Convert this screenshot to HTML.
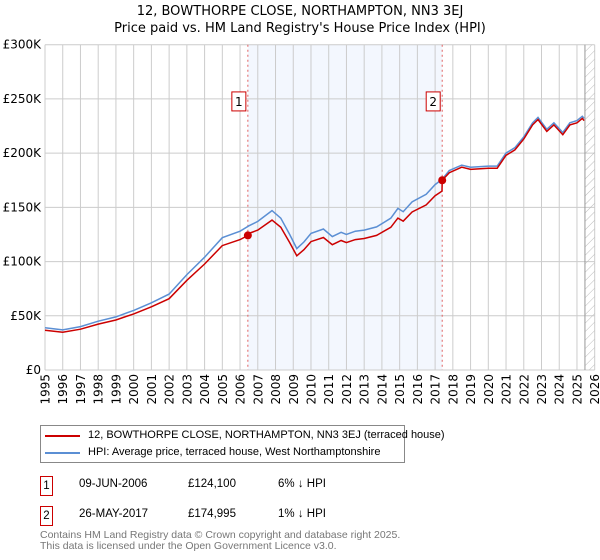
<!DOCTYPE html>
<html><head><meta charset="utf-8"><style>
body{margin:0;background:#fff;font-family:"Liberation Sans","DejaVu Sans",sans-serif;}
#wrap{position:relative;width:600px;height:560px;overflow:hidden}
.nw{white-space:nowrap}
</style></head><body>
<div id="wrap">
<svg id="chart" width="600" height="560" xmlns="http://www.w3.org/2000/svg" font-family="DejaVu Sans, Liberation Sans, sans-serif">
<defs><pattern id="hatch" width="6" height="6" patternUnits="userSpaceOnUse" patternTransform="rotate(45)"><line x1="0" y1="0" x2="0" y2="6" stroke="#bbb" stroke-width="1"/></pattern></defs>
<text x="300" y="15" text-anchor="middle" font-size="13">12, BOWTHORPE CLOSE, NORTHAMPTON, NN3 3EJ</text>
<text x="300" y="32" text-anchor="middle" font-size="13">Price paid vs. HM Land Registry's House Price Index (HPI)</text>
<g id="grid"></g><g id="marks"></g>
</svg>
<div style="position:absolute;left:40px;top:425px;width:363px;height:36px;border:1px solid #888;font-size:11px">
 <div style="position:absolute;left:4px;top:9px;width:35px;height:2px;background:#cc0000"></div>
 <div class="nw" style="position:absolute;left:47px;top:3px;">12, BOWTHORPE CLOSE, NORTHAMPTON, NN3 3EJ (terraced house)</div>
 <div style="position:absolute;left:4px;top:26px;width:35px;height:2px;background:#5b8fd4"></div>
 <div class="nw" style="position:absolute;left:47px;top:20px;">HPI: Average price, terraced house, West Northamptonshire</div>
</div>
<div style="position:absolute;left:40px;top:476px;font-size:11.5px;width:400px;height:50px">
 <div style="position:absolute;left:0;top:0;width:11px;height:18px;border:1px solid #cc0000;text-align:center;line-height:18px">1</div>
 <div class="nw" style="position:absolute;left:39px;top:2px">09-JUN-2006</div>
 <div class="nw" style="position:absolute;left:148px;top:2px">£124,100</div>
 <div class="nw" style="position:absolute;left:238px;top:2px">6% ↓ HPI</div>
 <div style="position:absolute;left:0;top:30px;width:11px;height:18px;border:1px solid #cc0000;text-align:center;line-height:18px">2</div>
 <div class="nw" style="position:absolute;left:39px;top:32px">26-MAY-2017</div>
 <div class="nw" style="position:absolute;left:148px;top:32px">£174,995</div>
 <div class="nw" style="position:absolute;left:238px;top:32px">1% ↓ HPI</div>
</div>
<div class="nw" style="position:absolute;left:40px;top:530px;font-size:10.5px;color:#777;line-height:10.5px">Contains HM Land Registry data © Crown copyright and database right 2025.<br>This data is licensed under the Open Government Licence v3.0.</div>
</div>
<script>
const hpiDates=[1995,1996,1997,1998,1999,2000,2001,2002,2003,2004,2005,2006,2006.5,2007,2007.8,2008.3,2008.8,2009.2,2009.6,2010,2010.7,2011.2,2011.7,2012,2012.5,2013,2013.7,2014.5,2014.9,2015.2,2015.7,2016.5,2017,2017.4,2017.8,2018.5,2019,2020,2020.5,2021,2021.5,2022,2022.5,2022.8,2023.3,2023.7,2024.2,2024.6,2025,2025.3,2025.4];
const hpiValues=[39,37,40,45,49,55,62,70,88,104,122,128,133,137,147,140,125,112,118,126,130,123,127,125,128,129,132,140,149,146,155,162,171,176,184,189,187,188,188,200,205,215,228,233,222,228,219,228,230,234,232];
const priceDates=[1995,1996,1997,1998,1999,2000,2001,2002,2003,2004,2005,2006,2006.44,2006.5,2007,2007.8,2008.3,2008.8,2009.2,2009.6,2010,2010.7,2011.2,2011.7,2012,2012.5,2013,2013.7,2014.5,2014.9,2015.2,2015.7,2016.5,2017,2017.39,2017.4,2017.8,2018.5,2019,2020,2020.5,2021,2021.5,2022,2022.5,2022.8,2023.3,2023.7,2024.2,2024.6,2025,2025.3,2025.4];
const priceValues=[36.7,34.8,37.6,42.3,46.1,51.7,58.3,65.8,82.7,97.8,114.7,120.3,124.1,126,129,138.2,131.6,117.5,105.3,110.9,118.4,122.2,115.6,119.4,117.5,120.3,121.3,124.1,131.6,140.1,137.2,145.7,152.3,160.7,165,175,182,187,185,186,186,198,203,213,226,231,220,226,217,226,228,232,230];
const saleDates=[2006.44,2017.4];
const saleValues=[124.1,175];
const saleLabels=["1","2"];
const yTicks=[0,50,100,150,200,250,300];
const yTickLabels=["£0","£50K","£100K","£150K","£200K","£250K","£300K"];
const xTicks=[];for(let y=1995;y<=2026;y++)xTicks.push(y);
const L=45,R=594.7,T=44.7,B=370,X0=1995,X1=2026,YMAX=300,DATA_END=2025.45;
const xs=v=>L+(v-X0)/(X1-X0)*(R-L), ys=v=>B-v/YMAX*(B-T);
const NS="http://www.w3.org/2000/svg";
const grid=document.getElementById('grid'), marks=document.getElementById('marks');
function mk(p,tag,at){const e=document.createElementNS(NS,tag);for(const k in at)e.setAttribute(k,at[k]);p.appendChild(e);return e;}
let r=mk(grid,'rect',{x:xs(saleDates[0]),y:T,width:xs(saleDates[1])-xs(saleDates[0]),height:B-T,fill:'#eef3fd',opacity:0.7});


xTicks.forEach(t=>{const l=mk(grid,'line',{x1:xs(t),x2:xs(t),y1:T,y2:B,stroke:'#ccc','stroke-width':1});


const g=mk(grid,'g',{transform:'translate('+(xs(t)+4.5).toFixed(1)+','+(B+4)+') rotate(-90)'});
const tx=mk(g,'text',{x:0,y:0,'font-size':12,'text-anchor':'end'});tx.textContent=t;

});
yTicks.forEach((t,i)=>{const l=mk(grid,'line',{x1:L,x2:R,y1:ys(t),y2:ys(t),stroke:'#ccc','stroke-width':1});


const tx=mk(grid,'text',{x:L-4,y:ys(t)+4,'font-size':12,'text-anchor':'end'});tx.textContent=yTickLabels[i];

});
const h=mk(grid,'rect',{x:xs(DATA_END),y:T,width:R-xs(DATA_END),height:B-T,fill:'url(#hatch)'});


mk(grid,'line',{x1:xs(DATA_END),x2:xs(DATA_END),y1:T,y2:B,stroke:'#999'});
saleDates.forEach((d,i)=>{const l=mk(marks,'line',{x1:xs(d),x2:xs(d),y1:T,y2:B,stroke:'#e06060','stroke-dasharray':'2,3','stroke-width':1});


const bx=mk(marks,'rect',{x:xs(d)-16,y:ys(250)-7,width:14,height:19,fill:'#fff',stroke:'#cc0000'});


const tx=mk(marks,'text',{x:xs(d)-9,y:ys(250)+7,'font-size':12,'text-anchor':'middle'});tx.textContent=saleLabels[i];

});
const pts=(ds,vs)=>ds.map((d,i)=>xs(d).toFixed(1)+','+ys(vs[i]).toFixed(1)).join(' ');
const hl=mk(marks,'polyline',{points:pts(hpiDates,hpiValues),fill:'none',stroke:'#5b8fd4','stroke-width':1.5});


const pl=mk(marks,'polyline',{points:pts(priceDates,priceValues),fill:'none',stroke:'#cc0000','stroke-width':1.5});


saleDates.forEach((d,i)=>{const c=mk(marks,'circle',{cx:xs(d),cy:ys(saleValues[i]),r:4,fill:'#cc0000'});

});
</script>
</body></html>
